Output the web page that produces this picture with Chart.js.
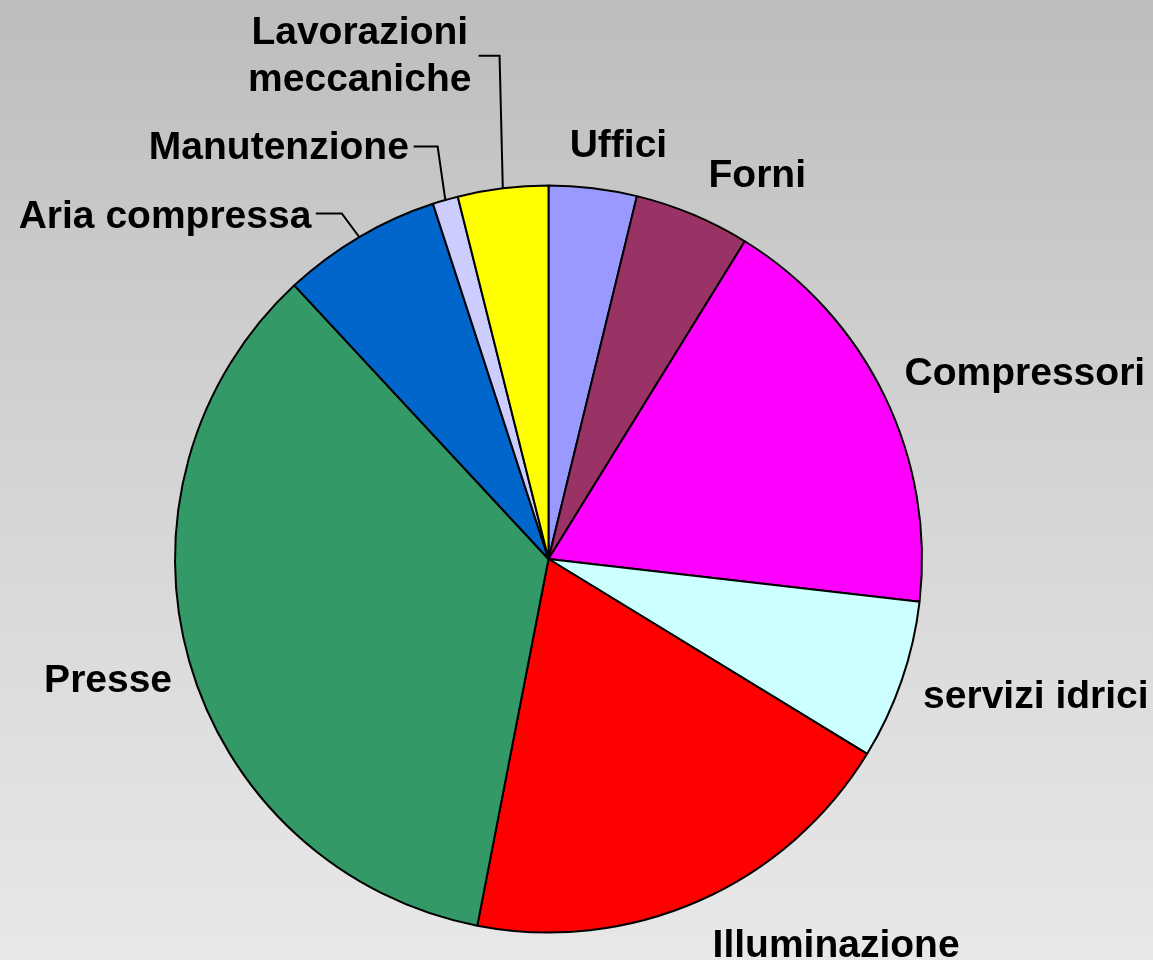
<!DOCTYPE html>
<html>
<head>
<meta charset="utf-8">
<script src="https://cdn.jsdelivr.net/npm/chart.js@4/dist/chart.umd.min.js"></script>
<style>
  html, body { margin: 0; padding: 0; }
  body {
    width: 1153px; height: 960px; overflow: hidden;
    background: linear-gradient(to bottom, #bdbdbd 0%, #d4d4d4 48%, #e8e8e8 100%);
  }
  #wrap { position: relative; width: 1153px; height: 960px; }
</style>
</head>
<body>
<div id="wrap"><canvas id="c"></canvas></div>
<script>
// ---- data ----
const categories = ["Uffici", "Forni", "Compressori", "servizi idrici", "Illuminazione",
                    "Presse", "Aria compressa", "Manutenzione", "Lavorazioni meccaniche"];
const shares = [3.8, 5.0, 18.0, 6.9, 19.3, 35.0, 6.9, 1.1, 3.9];
const sliceColors = ["#9999ff", "#993366", "#ff00ff", "#ccffff", "#ff0000",
                     "#339966", "#0066cc", "#ccccff", "#ffff00"];

// label placement (pixels relative to pie centre at a 374px radius; scaled with radius)
const labelLayout = [
  { lines: ["Uffici"], x: 70, y: [-403] },
  { lines: ["Forni"], x: 209, y: [-372] },
  { lines: ["Compressori"], x: 477, y: [-174] },
  { lines: ["servizi idrici"], x: 488, y: [149] },
  { lines: ["Illuminazione"], x: 288, y: [399] },
  { lines: ["Presse"], x: -441, y: [133] },
  { lines: ["Aria compressa"], x: -384, y: [-331], leader: { sx: -233, ex: -207, y: -346 } },
  { lines: ["Manutenzione"], x: -270, y: [-401], leader: { sx: -135, ex: -111, y: -413 } },
  { lines: ["Lavorazioni", "meccaniche"], x: -189, y: [-516, -469], leader: { sx: -70, ex: -49, y: -504 } }
];

const labelPlugin = {
  id: 'pieLabels',
  afterDatasetsDraw(chart) {
    const meta = chart.getDatasetMeta(0);
    const ctx = chart.ctx;
    ctx.save();
    ctx.font = 'bold 39px "Liberation Sans", Arial, sans-serif';
    ctx.fillStyle = '#000';
    ctx.textAlign = 'center';
    ctx.textBaseline = 'alphabetic';
    meta.data.forEach((arc, i) => {
      const L = labelLayout[i];
      const R = arc.outerRadius;
      const k = R / 374;
      const cx = arc.x, cy = arc.y;
      L.lines.forEach((t, j) => {
        ctx.fillText(t, cx + L.x * k, cy + L.y[j] * k);
      });
      if (L.leader) {
        const mid = (arc.startAngle + arc.endAngle) / 2;
        const px = cx + Math.cos(mid) * R;
        const py = cy + Math.sin(mid) * R;
        ctx.beginPath();
        ctx.lineWidth = 2;
        ctx.strokeStyle = '#000';
        ctx.moveTo(cx + L.leader.sx * k, cy + L.leader.y * k);
        ctx.lineTo(cx + L.leader.ex * k, cy + L.leader.y * k);
        ctx.lineTo(px, py);
        ctx.stroke();
      }
    });
    ctx.restore();
  }
};

new Chart(document.getElementById('c'), {
  type: 'pie',
  data: {
    labels: categories,
    datasets: [{
      data: shares,
      backgroundColor: sliceColors,
      borderColor: '#000000',
      borderWidth: 2,
      hoverOffset: 0,
      borderAlign: 'center'
    }]
  },
  options: {
    responsive: true,
    maintainAspectRatio: false,
    animation: false,
    layout: { padding: { left: 174, right: 230, top: 184, bottom: 26 } },
    plugins: {
      legend: { display: false },
      tooltip: { enabled: false },
      title: { display: false }
    }
  },
  plugins: [labelPlugin]
});
</script>
</body>
</html>
